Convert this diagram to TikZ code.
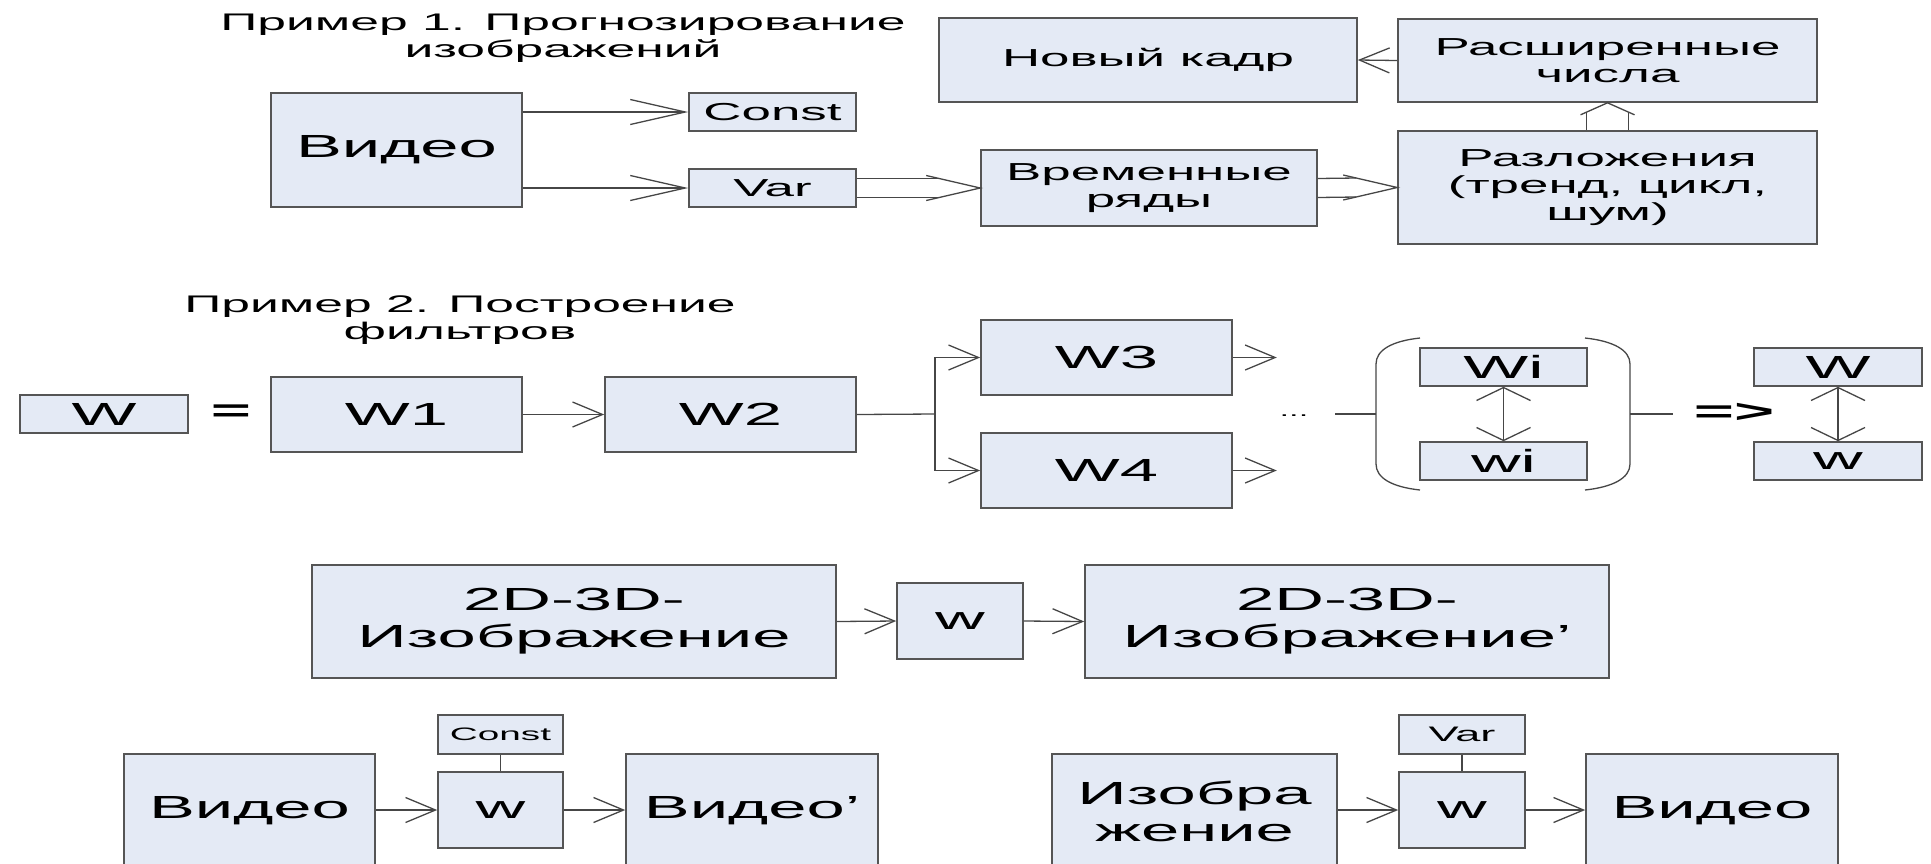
\documentclass[tikz,border=0pt]{standalone}
\usepackage{fontspec}
\setmainfont{Liberation Sans}[FakeStretch=2.15]
\usetikzlibrary{arrows.meta,calc}
\definecolor{boxfill}{RGB}{228,234,245}
\definecolor{boxline}{RGB}{85,85,85}
\definecolor{conncol}{RGB}{70,70,70}
\newcommand\fbig{\fontsize{16}{18.5}\selectfont}
\newcommand\fmed{\fontsize{12.3}{13.5}\selectfont}
\newcommand\ftitle{\fontsize{12}{13.5}\selectfont}
\newcommand\bx[7][]{\node[box,#1,minimum width={(#5-#3)*0.5pt},minimum height={(#6-#4)*0.5pt}] (#2) at ({(#3+#5)/2},{(#4+#6)/2}) {#7};}
\begin{document}
\begin{tikzpicture}[x=0.5pt,y=-0.5pt,
  box/.style={draw=boxline,fill=boxfill,line width=0.8pt,inner sep=0pt,align=center,font=\fbig},
  med/.style={font=\fmed},
  conn/.style={draw=conncol,line width=0.65pt},
  arrL/.style={conn,-{Straight Barb[length=27.5pt,width=12.5pt]}},
  arrS/.style={conn,-{Straight Barb[length=15pt,width=12.5pt]}},
  arrV/.style={conn,{Straight Barb[length=6.5pt,width=27pt]}-{Straight Barb[length=6.5pt,width=27pt]}}]
\useasboundingbox (0,0) rectangle (1931,863);
\clip (0,0) rectangle (1931,863);
% titles
\node[font=\ftitle,align=center] (t1) at (563,38) {Пример 1. Прогнозирование\\изображений};
\node[font=\ftitle,align=center] (t2) at (460,320) {Пример 2. Построение\\фильтров};
% example 1
\bx{vid1}{271}{93}{522}{207}{Видео}
\bx[med]{const1}{689}{93}{856}{131}{Const}
\bx[med]{var1}{689}{169}{856}{207}{Var}
\bx[med]{newfr}{939}{18}{1357}{102}{Новый кадр}
\bx[med]{ext}{1398}{19}{1817}{102}{Расширенные\\числа}
\bx[med]{vrem}{981}{150}{1317}{226}{Временные\\ряды}
\bx[med]{razl}{1398}{131}{1817}{244}{Разложения\\(тренд, цикл,\\шум)}
\draw[arrL] (vid1.east |- const1.west) -- (const1.west);
\draw[arrL] (vid1.east |- var1.west) -- (var1.west);
% double arrow var -> vrem
\draw[conn] ($(var1.east)+(0,-9.5)$) -- ($(vrem.west)+(-41,-9.5)$);
\draw[conn] ($(var1.east)+(0,9.5)$) -- ($(vrem.west)+(-41,9.5)$);
\draw[conn] ($(vrem.west)+(-54,-12.5)$) -- (vrem.west) -- ($(vrem.west)+(-54,12.5)$);
% double arrow vrem -> razl
\draw[conn] ($(vrem.east)+(0,-9.5)$) -- ($(razl.west)+(-41,-9.5)$);
\draw[conn] ($(vrem.east)+(0,9.5)$) -- ($(razl.west)+(-41,9.5)$);
\draw[conn] ($(razl.west)+(-54,-12.5)$) -- (razl.west) -- ($(razl.west)+(-54,12.5)$);
% double arrow razl -> ext
\draw[conn] ($(razl.north)+(-21,0)$) -- ($(ext.south)+(-21,9.5)$);
\draw[conn] ($(razl.north)+(21,0)$) -- ($(ext.south)+(21,9.5)$);
\draw[conn] ($(ext.south)+(-27,12)$) -- (ext.south) -- ($(ext.south)+(27,12)$);
\draw[arrS] (ext.west) -- (newfr.east);
% example 2
\bx{wsm}{20}{395}{188}{433}{W}
\node[font=\fbig\bfseries] (eq) at (231,413) {=};
\bx{w1}{271}{377}{522}{452}{W1}
\bx{w2}{605}{377}{856}{452}{W2}
\bx{w3}{981}{320}{1232}{395}{W3}
\bx{w4}{981}{433}{1232}{508}{W4}
\draw[arrS] (w1.east) -- (w2.west);
\coordinate (br) at (935,414);
\draw[conn] (w2.east) -- (br);
\draw[arrS] (br) |- (w3.west);
\draw[arrS] (br) |- (w4.west);
\coordinate (w3o) at ($(w3.east)+(44,0)$);
\coordinate (w4o) at ($(w4.east)+(44,0)$);
\draw[arrS] (w3.east) -- (w3o);
\draw[arrS] (w4.east) -- (w4o);
\node[font=\fontsize{8}{9}\selectfont] (dots) at (1294,416) {...};
\coordinate (lpin) at (1335,414);
\coordinate (lp) at (1376,414);
\coordinate (rp) at (1630,414);
\coordinate (rpout) at (1673,414);
\draw[conn] (lpin) -- (lp);
\draw[conn] (rp) -- (rpout);
\draw[conn] (1420,338) .. controls (1392,341) and (1376,350) .. (1376,364) -- (1376,464) .. controls (1376,478) and (1392,487) .. (1420,490);
\draw[conn] (1585,338) .. controls (1613,341) and (1630,350) .. (1630,364) -- (1630,464) .. controls (1630,478) and (1613,487) .. (1585,490);
\bx{wi}{1420}{348}{1587}{386}{Wi}
\bx{wis}{1420}{442}{1587}{480}{wi}
\draw[arrV] (wi.south) -- (wis.north);
\node[font=\fbig\bfseries] (impl) at (1734,413) {=>};
\bx{wr}{1754}{348}{1922}{386}{W}
\bx{wrs}{1754}{442}{1922}{480}{w}
\draw[arrV] (wr.south) -- (wrs.north);
% 2D-3D row
\bx{img1}{312}{565}{836}{678}{2D-3D-\\Изображение}
\bx{wm}{897}{583}{1023}{659}{w}
\bx{img2}{1085}{565}{1609}{678}{2D-3D-\\Изображение'}
\draw[arrS] (img1.east) -- (wm.west);
\draw[arrS] (wm.east) -- (img2.west);
% bottom left
\bx[font=\fontsize{9}{10}\selectfont]{cst2}{438}{715}{563}{754}{Const}
\bx{wb1}{438}{772}{563}{848}{w}
\bx{vid2}{124}{754}{375}{868}{Видео}
\bx{vid3}{626}{754}{878}{868}{Видео'}
\draw[conn] (cst2.south) -- (wb1.north);
\draw[arrS] (vid2.east |- wb1.west) -- (wb1.west);
\draw[arrS] (wb1.east) -- (vid3.west |- wb1.east);
% bottom right
\bx[font=\fontsize{10.5}{12}\selectfont]{var2}{1399}{715}{1525}{754}{Var}
\bx{wb2}{1399}{772}{1525}{848}{w}
\bx{izob}{1052}{754}{1337}{868}{Изобра\\жение}
\bx{vid4}{1586}{754}{1838}{868}{Видео}
\draw[conn] (var2.south) -- (wb2.north);
\draw[arrS] (izob.east |- wb2.west) -- (wb2.west);
\draw[arrS] (wb2.east) -- (vid4.west |- wb2.east);
\end{tikzpicture}
\end{document}
